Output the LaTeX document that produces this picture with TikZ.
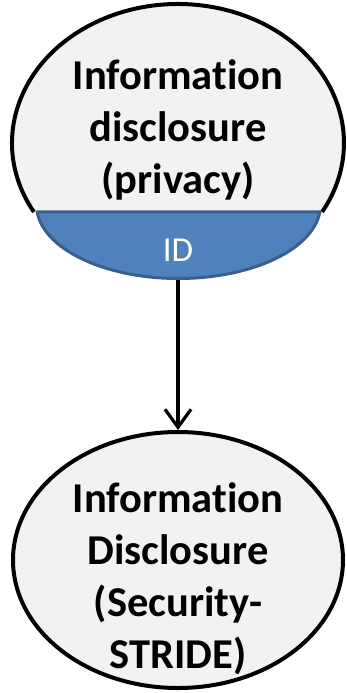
\documentclass[tikz,border=0pt]{standalone}
\usepackage{fontspec}
\setmainfont{Carlito}[RawFeature={-liga;-dlig;-clig}]
\usetikzlibrary{arrows.meta,shapes.geometric}
\definecolor{shapegray}{HTML}{F2F2F2}
\definecolor{capblue}{HTML}{4F81BD}
\definecolor{capborder}{HTML}{3A5F8E}
\tikzset{
  outline/.style={draw=black,line width=4pt,fill=shapegray},
  capshape/.style={draw=capborder,line width=3pt,fill=capblue,line join=round},
  bigtext/.style={font=\bfseries\fontsize{42.5}{52}\selectfont,align=center,inner sep=0pt},
  captext/.style={font=\fontsize{35}{40}\selectfont,text=white,inner sep=0pt},
  link/.style={line width=3.2pt,-{Straight Barb[length=18pt,width=26pt,line width=3.2pt]}}
}
\begin{document}
\begin{tikzpicture}[x=1pt,y=1pt]
\useasboundingbox (0,0) rectangle (346,-693);
% top shape
\coordinate (topc) at (178,-143);
\fill[shapegray] (topc) ++(209.76:166 and 139) arc[start angle=209.76,end angle=-29.76,x radius=166,y radius=139] -- cycle;
\draw[black,line width=4pt] (topc) ++(209.76:166 and 139) arc[start angle=209.76,end angle=-29.76,x radius=166,y radius=139];
\coordinate (capc) at (178.5,-205);
\draw[capshape] (capc) ++(185.4:142 and 73.5) arc[start angle=185.4,end angle=354.6,x radius=142,y radius=73.5] -- cycle;
\coordinate (capbottom) at (178,-280);
\node[bigtext] (toplabel) at (178,-130) {Information\\disclosure\\(privacy)};
\node[captext,anchor=base] (idlabel) at (178,-261.7) {ID};
% bottom shape
\node[ellipse,outline,minimum width=330pt,minimum height=256pt,inner sep=0pt] (bottom) at (178,-560) {};
\node[bigtext] (bottomlabel) at (178,-578.5) {Information\\Disclosure\\(Security-\\STRIDE)};
\draw[link] (capbottom) -- (bottom.north);
\end{tikzpicture}
\end{document}
